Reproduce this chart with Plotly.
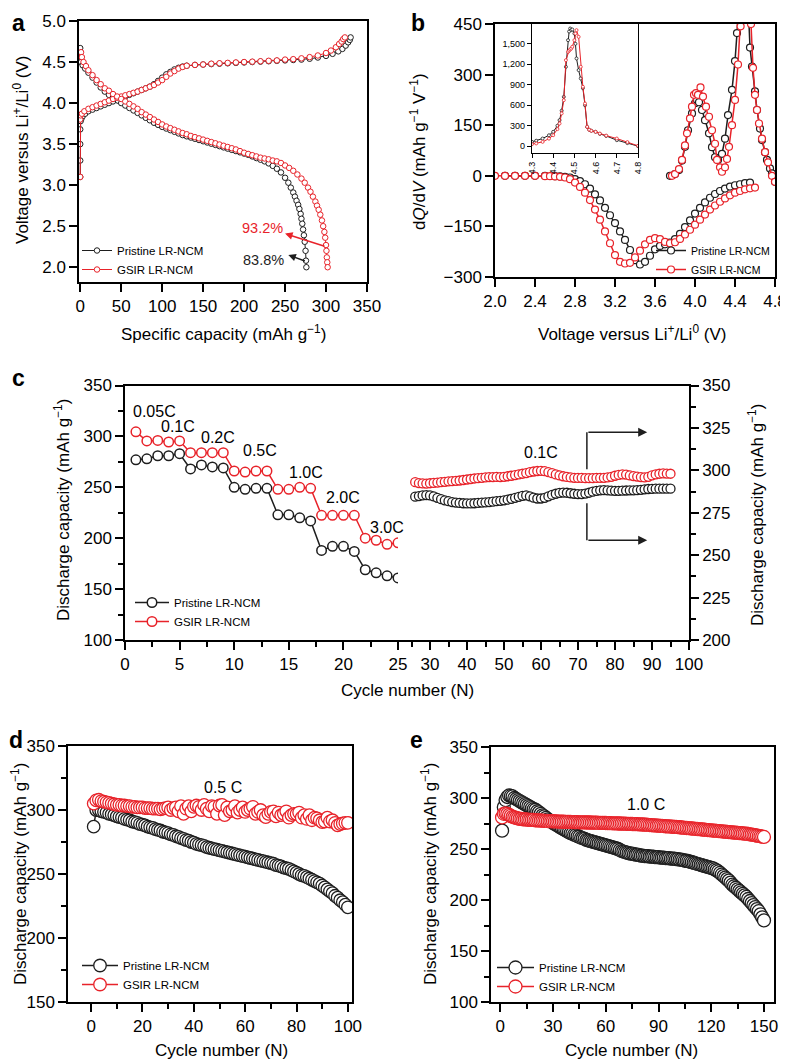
import plotly.graph_objects as go

W, H = 788, 1059
OX, OY = 8, 8  # the page body puts the figure 8 px in from the corner
RED = "#e8232a"
BLACK = "#1e1e1e"
FONT = "Liberation Sans, Arial, Helvetica, sans-serif"

# ---------------- panel a : charge / discharge profiles ----------------
a_pri_chg_cap = [0, 0, 0, 0, 0.5, 1.5, 3, 6,
                 10, 15, 20, 25, 30, 35, 40, 45, 50, 55, 60, 65, 70, 75, 80, 85, 90, 95, 100, 105, 110, 115, 120, 125, 130,
                 140, 150, 160, 170, 180, 190, 200, 210, 220, 230, 240, 250, 260, 270, 280, 290, 300,
                 308, 315, 320, 324, 327, 329, 330]
a_pri_chg_v = [3.1, 3.3, 3.5, 3.68, 3.78, 3.81, 3.84, 3.87,
               3.9, 3.92, 3.94, 3.96, 3.98, 4.0, 4.02, 4.04, 4.06, 4.08, 4.1, 4.12, 4.14, 4.16, 4.18, 4.2, 4.23, 4.27, 4.31, 4.35, 4.38, 4.41, 4.43, 4.445, 4.455,
               4.465, 4.47, 4.475, 4.48, 4.485, 4.49, 4.495, 4.5, 4.505, 4.51, 4.515, 4.52, 4.525, 4.53, 4.54, 4.555, 4.575,
               4.6, 4.63, 4.66, 4.7, 4.74, 4.77, 4.8]
a_gsir_chg_cap = [0, 0, 0.5, 2, 5,
                  10, 15, 20, 25, 30, 35, 40, 45, 50, 55, 60, 65, 70, 75, 80, 85, 90, 95, 100, 105, 110, 115, 120, 125, 130,
                  140, 150, 160, 170, 180, 190, 200, 210, 220, 230, 240, 250, 260, 270, 280, 290, 300,
                  306, 312, 316, 319, 321, 323]
a_gsir_chg_v = [3.1, 3.8, 3.85, 3.87, 3.9,
                3.93, 3.95, 3.97, 3.99, 4.01, 4.03, 4.05, 4.065, 4.08, 4.095, 4.11, 4.125, 4.14, 4.16, 4.18, 4.2, 4.22, 4.25, 4.28, 4.32, 4.36, 4.39, 4.42, 4.44, 4.455,
                4.465, 4.47, 4.48, 4.485, 4.49, 4.495, 4.5, 4.505, 4.51, 4.515, 4.52, 4.53, 4.535, 4.545, 4.56, 4.58, 4.61,
                4.64, 4.68, 4.72, 4.75, 4.78, 4.8]
a_pri_dis_cap = [0, 0.5, 1, 3, 6, 10, 15, 20, 25, 30, 35, 40, 46,
                 50, 55, 60, 65, 70, 75, 80, 85, 90, 95, 100, 105, 110, 115, 120, 125, 130, 135, 140, 145,
                 150, 155, 160, 165, 170, 175, 180, 185, 190, 195, 200, 205, 210, 215, 220, 225, 230, 235, 240, 245,
                 250, 254, 257, 260, 262, 264, 266, 267.5, 269, 270, 271, 272, 273, 274, 275, 275.5, 276]
a_pri_dis_v = [4.67, 4.55, 4.5, 4.46, 4.42, 4.37, 4.31, 4.25, 4.19, 4.14, 4.1, 4.07, 4.03,
               4.0, 3.97, 3.94, 3.91, 3.88, 3.85, 3.82, 3.79, 3.76, 3.735, 3.71, 3.69, 3.67, 3.65, 3.63, 3.61, 3.595, 3.58, 3.565, 3.55,
               3.535, 3.52, 3.505, 3.49, 3.475, 3.46, 3.445, 3.43, 3.415, 3.4, 3.385, 3.37, 3.35, 3.33, 3.31, 3.29, 3.265, 3.235, 3.2, 3.155,
               3.09, 3.03, 2.97, 2.91, 2.86, 2.81, 2.76, 2.71, 2.65, 2.59, 2.53, 2.46, 2.39, 2.31, 2.2, 2.08, 2.0]
a_gsir_dis_cap = [1, 2, 4, 7, 10, 15, 20, 25, 30, 35, 40, 45, 50, 55, 60, 65, 70, 75, 80, 85, 90, 95,
                  100, 105, 110, 115, 120, 125, 130, 135, 140, 145, 150, 155, 160, 165, 170, 175, 180, 185, 190, 195,
                  200, 205, 210, 215, 220, 225, 230, 235,
                  240, 245, 250, 255, 260, 265, 270, 274, 278, 281, 284, 287, 289, 291, 293, 295, 296.5, 298, 299, 300,
                  300.5, 301, 301.5, 302]
a_gsir_dis_v = [4.62, 4.56, 4.5, 4.45, 4.4, 4.34, 4.28, 4.23, 4.18, 4.15, 4.11, 4.08, 4.05, 4.02, 3.99, 3.96, 3.93, 3.89, 3.86, 3.83, 3.8, 3.77,
                3.74, 3.715, 3.695, 3.675, 3.655, 3.635, 3.62, 3.6, 3.585, 3.57, 3.555, 3.54, 3.525, 3.51, 3.495, 3.48, 3.465, 3.45, 3.435, 3.415,
                3.395, 3.38, 3.365, 3.35, 3.335, 3.325, 3.315, 3.3,
                3.29, 3.27, 3.24, 3.21, 3.175, 3.13, 3.08, 3.03, 2.97, 2.92, 2.86, 2.8, 2.75, 2.7, 2.64, 2.57, 2.5, 2.43, 2.36, 2.27,
                2.2, 2.12, 2.06, 2.0]

# ---------------- panel b : dQ/dV ----------------
b_pri_dis_v = [2.1, 2.2, 2.3, 2.4, 2.5, 2.6,
               2.65, 2.7, 2.75, 2.8, 2.85, 2.9, 2.95, 3.0, 3.05, 3.1,
               3.15, 3.2, 3.25, 3.3, 3.35, 3.4, 3.45, 3.5, 3.55, 3.6,
               3.65, 3.7, 3.75, 3.8, 3.85, 3.9, 3.95, 4.0, 4.05, 4.1,
               4.15, 4.2, 4.25, 4.3, 4.35, 4.4, 4.45, 4.5, 4.55]
b_pri_dis = [0, 0, 0, 0, 0, -1,
             -2, -3, -5, -10, -16, -25, -38, -55, -73, -95,
             -117, -140, -165, -190, -220, -250, -263, -255, -237, -218,
             -208, -203, -198, -188, -172, -152, -132, -112, -95, -79,
             -65, -54, -45, -38, -32, -28, -25, -22, -20]
b_gsir_dis_v = [2.0, 2.1, 2.2, 2.3, 2.4, 2.5, 2.55, 2.6, 2.65, 2.7, 2.75, 2.8, 2.85, 2.9, 2.95, 3.0,
                3.05, 3.1, 3.15, 3.2, 3.25, 3.3, 3.35, 3.4, 3.45, 3.5, 3.55, 3.6, 3.65, 3.7, 3.75, 3.8,
                3.85, 3.9, 3.95, 4.0, 4.05, 4.1, 4.15, 4.2, 4.25, 4.3, 4.35, 4.4, 4.45, 4.5, 4.55, 4.6]
b_gsir_dis = [0, 0, 0, 0, 0, -1, -1, -2, -3, -5, -10, -20, -33, -50, -72, -100,
              -130, -165, -200, -235, -255, -260, -258, -242, -222, -203, -190, -185, -188, -196, -200, -197,
              -187, -174, -160, -145, -130, -115, -100, -88, -77, -67, -58, -50, -45, -40, -37, -35]
b_pri_chg_v = [3.75, 3.8, 3.84, 3.87, 3.9, 3.93, 3.97, 4.0, 4.02, 4.04, 4.07, 4.1, 4.14, 4.17, 4.2, 4.23,
               4.27, 4.3, 4.33, 4.37, 4.4, 4.42, 4.44, 4.5, 4.53, 4.55, 4.57, 4.6, 4.62, 4.65, 4.67, 4.7,
               4.72, 4.75, 4.77, 4.8]
b_pri_chg = [0, 5, 17, 45, 86, 135, 185, 215, 225, 218, 195, 165, 126, 85, 55, 47,
             65, 110, 180, 255, 340, 423, 520, 1700, 520, 380, 324, 250, 195, 140, 106, 70,
             47, 22, 7, -18]
b_gsir_chg_v = [3.77, 3.8, 3.84, 3.87, 3.9, 3.92, 3.95, 3.97, 3.99, 4.01, 4.03, 4.055, 4.08, 4.11, 4.14, 4.17,
                4.2, 4.22, 4.25, 4.27, 4.3, 4.32, 4.34, 4.37, 4.4, 4.43, 4.456, 4.48, 4.52, 4.56, 4.58, 4.6,
                4.62, 4.64, 4.67, 4.7, 4.73, 4.77, 4.8]
b_gsir_chg = [0, 5, 20, 47, 90, 126, 170, 205, 240, 245, 240, 262, 235, 205, 175, 135,
              95, 47, 25, 12, 25, 50, 86, 150, 225, 330, 443, 600, 1700, 450, 320, 240,
              195, 155, 110, 70, 40, 0, -18]

# inset of panel b (charge peak)
ins_v = [4.3, 4.32, 4.35, 4.38, 4.4, 4.42, 4.43, 4.44, 4.45, 4.46, 4.47, 4.475, 4.48, 4.485, 4.49, 4.5,
         4.505, 4.51, 4.52, 4.53, 4.54, 4.55, 4.56, 4.57, 4.58, 4.6, 4.62, 4.65, 4.7, 4.75, 4.8]
ins_pri = [63, 80, 112, 160, 210, 300, 381, 520, 723, 1163, 1553, 1680, 1724, 1700, 1710, 1651,
           1500, 1285, 1114, 992, 850, 600, 283, 240, 225, 210, 180, 150, 88, 45, 0]
ins_gsir = [30, 40, 63, 110, 161, 250, 332, 480, 674, 1260, 1382, 1400, 1417, 1430, 1456, 1553,
            1650, 1700, 1602, 1163, 870, 625, 283, 240, 225, 210, 185, 155, 112, 60, 5]

# ---------------- panel c : rate capability ----------------
c_cyc_rate = list(range(1, 26))
c_pri_rate = [277, 278, 281, 281, 283, 268, 272, 270, 269, 250, 248, 249, 249,
              223, 223, 220, 217, 188, 192, 192, 187, 169, 166, 163, 161]
c_gsir_rate = [304.5, 295.5, 296, 294.5, 295.5, 284, 284, 284, 284, 266, 265, 266, 266,
               248, 248, 250, 249, 222.5, 222.5, 222.5, 222.5, 200, 198, 194, 195.5]
c_rate_labels = ["0.05C", "0.1C", "0.2C", "0.5C", "1.0C", "2.0C", "3.0C"]
c_rate_label_x = [2.66, 4.86, 8.56, 12.32, 16.6, 19.97, 24.0]
c_rate_label_y = [324, 309.5, 298.7, 285.8, 264.1, 240.4, 210.5]

c_cyc_01 = list(range(26, 96))
c_pri_01 = [284.5, 284.8, 285.2, 285.4, 285.2, 284.6, 283.8, 283.0, 282.3, 281.8,
            281.3, 281.0, 280.8, 280.6, 280.5, 280.5, 280.6, 280.8, 281.0, 281.1,
            281.3, 281.5, 281.8, 282.0, 282.3, 282.7, 283.2, 283.8, 284.4, 285.0,
            285.2, 284.7, 283.9, 283.4, 283.4, 283.8, 284.6, 285.5, 286.2, 286.7,
            286.9, 286.8, 286.5, 286.2, 286.0, 286.0, 286.3, 286.8, 287.4, 287.9,
            288.2, 288.3, 288.2, 288.0, 287.9, 287.9, 288.0, 288.1, 288.2, 288.2,
            288.3, 288.5, 288.8, 289.0, 289.1, 289.2, 289.2, 289.2, 289.2, 289.2]
c_gsir_01 = [293.0, 292.5, 292.3, 292.2, 292.4, 292.6, 292.8, 293.0, 293.2, 293.5,
             293.6, 293.8, 294.0, 294.3, 294.6, 294.9, 295.2, 295.4, 295.6, 295.8,
             296.0, 296.0, 296.1, 296.0, 296.2, 296.5, 296.8, 297.2, 297.6, 298.0,
             298.4, 298.9, 299.3, 299.6, 299.7, 299.5, 299.0, 298.3, 297.6, 297.0,
             296.5, 296.1, 295.8, 295.6, 295.5, 295.5, 295.4, 295.4, 295.4, 295.5,
             295.5, 295.6, 295.8, 296.2, 296.8, 297.3, 297.6, 297.5, 297.0, 296.6,
             296.3, 296.0, 295.8, 296.2, 297.0, 297.6, 298.0, 298.2, 298.1, 298.0]

# ---------------- panel d : 0.5 C cycling ----------------
d_cyc = list(range(1, 101))
d_pri = [287, 300, 300, 299, 298.5, 298, 297, 296.5, 296, 295,
         294.5, 294, 293, 292.5, 292, 291, 290.5, 290, 289, 288.5,
         288, 287, 286.5, 286, 285, 284.5, 284, 283, 282.5, 282,
         281, 280.5, 279.5, 279, 278, 277.5, 276.5, 276, 275, 274.5,
         273.5, 273, 272.5, 272, 271, 270.5, 270, 269.5, 269, 268.5,
         268, 267.5, 267, 266.5, 266, 265.5, 265, 264.5, 264, 263.5,
         263, 262.5, 262, 261.5, 261, 260.5, 260, 259.5, 259, 258.5,
         258, 257, 256.5, 256, 255, 254.5, 254, 253, 252, 251,
         250, 249, 248.5, 247.5, 246.5, 245.5, 244.5, 243.5, 242.5, 241,
         239.5, 238, 236.5, 235, 233, 231.5, 229.5, 228, 226, 224]
d_gsir = [305, 307.5, 308, 307, 306.5, 306, 305.5, 305, 304.5, 304,
          304, 303.5, 303.5, 303, 303, 302.5, 302.5, 302, 302, 302,
          301.5, 301.5, 301.5, 301, 301, 301, 300.5, 301, 301.5, 302,
          300, 301.5, 302, 299, 303, 297, 301, 303, 299, 302.5,
          303.5, 302.5, 300, 304, 301, 299, 303, 302.5, 297, 303.5,
          304, 296, 302, 299, 300, 303, 298, 300, 302, 298.5,
          300, 301, 302.5, 297, 298.5, 300, 296, 294.5, 297, 298.5,
          299, 295, 298, 296, 297, 299, 294, 296, 297, 297,
          298, 294, 296, 293, 296, 292, 294, 293.5, 292, 290.5,
          291, 294, 291, 292, 290, 288, 289, 289.5, 290, 290]

# ---------------- panel e : 1.0 C cycling ----------------
e_cyc = list(range(1, 151))
e_pri = [268, 291, 298, 301, 302.5, 302, 301.5, 300, 299, 298,
         297, 296, 295, 294, 293, 292, 291, 290, 289, 288.5,
         287, 286, 284.5, 283, 282, 280.5, 279, 278, 277, 275.5,
         274.5, 273.5, 272.5, 271.5, 270.5, 269.5, 268.5, 267.5, 266.5, 265.5,
         265, 264, 263.5, 262.5, 262, 261, 260.5, 260, 259, 258.5,
         258, 257.5, 257, 256.5, 256, 255.5, 255, 254.5, 254, 253.5,
         253, 252.5, 252, 251.5, 251, 250.5, 250, 249, 248, 247.5,
         247, 246.5, 246, 245.5, 245.5, 245, 244.5, 244.5, 244, 243.5,
         243.5, 243, 243, 243, 242.5, 242.5, 242.5, 242, 242, 242,
         241.5, 241.5, 241.5, 241, 241, 241, 240.5, 240.5, 240.5, 240,
         240, 239.5, 239.5, 239, 238.5, 238.5, 238, 237.5, 237, 236.5,
         236, 235.5, 235, 234.5, 234, 233.5, 233, 232.5, 232, 231.5,
         231, 230, 229, 228, 226.5, 225, 223.5, 222, 220.5, 219,
         217, 215, 213.5, 212, 210.5, 209, 207.5, 206, 204.5, 203,
         201, 199, 197, 195, 193, 191, 189, 186, 183, 180]
e_gsir = [281, 284.5, 285, 284.5, 283.5, 282.5, 281.5, 281, 280.5, 280,
          279.5, 279.5, 279, 279, 279, 278.5, 278.5, 278.5, 278.5, 278,
          278, 278, 277.8, 277.8, 277.6, 277.6, 277.4, 277.4, 277.2, 277.2,
          277, 277, 276.9, 276.8, 276.8, 276.7, 276.6, 276.6, 276.5, 276.5,
          276.4, 276.4, 276.3, 276.3, 276.2, 276.2, 276.1, 276.1, 276, 276,
          276, 275.9, 275.9, 275.8, 275.8, 275.7, 275.7, 275.6, 275.6, 275.5,
          275.4, 275.4, 275.3, 275.2, 275.2, 275.1, 275, 275, 274.9, 274.8,
          274.8, 274.7, 274.6, 274.6, 274.5, 274.4, 274.4, 274.3, 274.2, 274.2,
          274, 273.9, 273.8, 273.6, 273.5, 273.4, 273.2, 273.1, 273, 272.9,
          272.7, 272.6, 272.5, 272.3, 272.2, 272.1, 272, 271.8, 271.7, 271.6,
          271.4, 271.3, 271.1, 271, 270.8, 270.6, 270.5, 270.3, 270.1, 270,
          269.8, 269.6, 269.5, 269.3, 269.1, 269, 268.8, 268.6, 268.5, 268.3,
          268.1, 268, 267.8, 267.6, 267.5, 267.3, 267.1, 267, 266.8, 266.6,
          266.5, 266.3, 266.1, 266, 265.8, 265.6, 265.5, 265.3, 265.1, 265,
          264.7, 264.4, 264.1, 263.8, 263.5, 263.1, 262.8, 262.5, 262.1, 261.8]

PRI = "Pristine LR-NCM"
GSIR = "GSIR LR-NCM"


def px(x):
    return (x - OX) / W


def py(y):
    return 1 - (y - OY) / H


def xd(left, right):
    return [px(left), px(right)]


def yd(top, bottom):
    return [py(bottom), py(top)]


def axis(domain, rng, anchor, dtick, **kw):
    d = dict(domain=domain, range=rng, anchor=anchor, dtick=dtick, automargin=False,
             showline=True, linecolor="black", linewidth=1.5, mirror=True,
             ticks="outside", ticklen=8, tickwidth=1.5, tickcolor="black",
             showgrid=False, zeroline=False,
             tickfont=dict(size=17, color="black", family=FONT))
    d.update(kw)
    return d


def minor(step, length=5):
    return dict(dtick=step, ticks="outside", ticklen=length, tickwidth=1.5, tickcolor="black", showgrid=False)


def series(x, y, color, xa, ya, size, lw=1.2, mlw=1.2, name=None, legend="legend", show=False):
    return go.Scatter(x=x, y=y, xaxis=xa, yaxis=ya, mode="lines+markers", name=name,
                      legend=legend, showlegend=show, cliponaxis=True,
                      line=dict(color=color, width=lw),
                      marker=dict(symbol="circle", size=size, color="white",
                                  line=dict(color=color, width=mlw)))


fig = go.Figure()

# a
fig.add_trace(series(a_pri_chg_cap, a_pri_chg_v, BLACK, "x", "y", 5.5, 1, 1, PRI, "legend", True))
fig.add_trace(series(a_pri_dis_cap, a_pri_dis_v, BLACK, "x", "y", 5.5, 1, 1))
fig.add_trace(series(a_gsir_chg_cap, a_gsir_chg_v, RED, "x", "y", 5.5, 1, 1, GSIR, "legend", True))
fig.add_trace(series(a_gsir_dis_cap, a_gsir_dis_v, RED, "x", "y", 5.5, 1, 1))

# b
fig.add_trace(series(b_pri_dis_v, b_pri_dis, BLACK, "x2", "y2", 7, 1.5, 1.2, PRI, "legend2", True))
fig.add_trace(series(b_pri_chg_v, b_pri_chg, BLACK, "x2", "y2", 7, 1.5, 1.2))
fig.add_trace(series(b_gsir_dis_v, b_gsir_dis, RED, "x2", "y2", 7, 1.5, 1.2, GSIR, "legend2", True))
fig.add_trace(series(b_gsir_chg_v, b_gsir_chg, RED, "x2", "y2", 7, 1.5, 1.2))
fig.add_trace(series(ins_v, ins_pri, BLACK, "x3", "y3", 3, 1, 0.8))
fig.add_trace(series(ins_v, ins_gsir, RED, "x3", "y3", 3, 1, 0.8))

# c
fig.add_trace(series(c_cyc_rate, c_pri_rate, BLACK, "x4", "y4", 9.5, 1.5, 1.5, PRI, "legend3", True))
fig.add_trace(series(c_cyc_rate, c_gsir_rate, RED, "x4", "y4", 9.5, 1.5, 1.5, GSIR, "legend3", True))
fig.add_trace(series(c_cyc_01, c_pri_01, BLACK, "x5", "y5", 9, 1.2, 1.3))
fig.add_trace(series(c_cyc_01, c_gsir_01, RED, "x5", "y5", 9, 1.2, 1.3))

# d
fig.add_trace(series(d_cyc, d_pri, BLACK, "x6", "y6", 12.5, 1.5, 1.3, PRI, "legend4", True))
fig.add_trace(series(d_cyc, d_gsir, RED, "x6", "y6", 12.5, 1.5, 1.3, GSIR, "legend4", True))

# e
fig.add_trace(series(e_cyc, e_pri, BLACK, "x7", "y7", 13, 1.5, 1.3, PRI, "legend5", True))
fig.add_trace(series(e_cyc, e_gsir, RED, "x7", "y7", 13, 1.5, 1.3, GSIR, "legend5", True))

ann = []


def label(text, x, y, size=17, angle=0, color="black", bold=False, ref=("paper", "paper")):
    if ref == ("paper", "paper"):
        x, y = px(x), py(y)
    ann.append(dict(text=f"<b>{text}</b>" if bold else text, x=x, y=y, xref=ref[0], yref=ref[1],
                    showarrow=False, textangle=angle, xanchor="center", yanchor="middle",
                    font=dict(size=size, color=color, family=FONT)))


# panel letters (kept just inside the drawable page area)
for t, lx, ly in [("a", 18, 23), ("b", 418, 23), ("c", 18, 378), ("d", 16, 740), ("e", 416, 740)]:
    label(t, lx, ly, size=23, bold=True)

# axis titles
li = "Voltage versus Li<sup>+</sup>/Li<sup>0</sup> (V)"
dc = "Discharge capacity (mAh g<sup>\u22121</sup>)"
cn = "Cycle number (N)"
label("Specific capacity (mAh g<sup>\u22121</sup>)", 223, 333)
label(li, 21, 150, angle=-90)
label(li, 632, 333)
label("d<i>Q</i>/d<i>V</i> (mAh g<sup>\u22121</sup> V<sup>\u22121</sup>)", 418, 151, angle=-90)
label(cn, 407, 690)
label(dc, 62, 510, angle=-90)
label(dc, 756, 515, angle=-90)
label(cn, 222, 1050)
label(dc, 19, 874, angle=-90)
label(cn, 631, 1050)
label(dc, 429, 874, angle=-90)

# panel a percentages with arrows
ann.append(dict(x=250, y=2.41, ax=300, ay=2.25, xref="x", yref="y", axref="x", ayref="y",
                showarrow=True, arrowhead=2, arrowsize=1, arrowwidth=1.5, arrowcolor=RED, text=""))
ann.append(dict(x=254, y=2.15, ax=276, ay=2.07, xref="x", yref="y", axref="x", ayref="y",
                showarrow=True, arrowhead=2, arrowsize=1, arrowwidth=1.5, arrowcolor=BLACK, text=""))
label("93.2%", 222, 2.48, size=14.5, color=RED, ref=("x", "y"))
label("83.8%", 224, 2.09, size=14.5, color=BLACK, ref=("x", "y"))

# panel c rate labels and arrows
for t, x, y in zip(c_rate_labels, c_rate_label_x, c_rate_label_y):
    label(t, x, y, size=16, ref=("x4", "y4"))
label("0.1C", 59.9, 310.8, size=16, ref=("x5", "y5"))
for yy in (322.5, 258.8):
    ann.append(dict(x=88.7, y=yy, ax=72.4, ay=yy, xref="x5", yref="y5", axref="x5", ayref="y5",
                    showarrow=True, arrowhead=2, arrowsize=1.2, arrowwidth=1.5, arrowcolor=BLACK, text=""))
shapes = [dict(type="line", xref="x5", yref="y5", x0=72.4, x1=72.4, y0=322.5, y1=300.6,
               line=dict(color=BLACK, width=1.5)),
          dict(type="line", xref="x5", yref="y5", x0=72.4, x1=72.4, y0=280.6, y1=258.8,
               line=dict(color=BLACK, width=1.5))]

label("0.5 C", 51.4, 317.9, size=16, ref=("x6", "y6"))
label("1.0 C", 82.8, 293.8, size=16, ref=("x7", "y7"))


def leg(lx, ly, size, iw=30):
    return dict(x=px(lx), y=py(ly), xanchor="left", yanchor="top", bgcolor="rgba(0,0,0,0)",
                font=dict(size=size, color="black", family=FONT), tracegroupgap=0, itemwidth=iw)


fig.update_layout(
    template="none",
    width=W, height=H, margin=dict(l=0, r=0, t=0, b=0, pad=0), autosize=False,
    paper_bgcolor="white", plot_bgcolor="white",
    font=dict(family=FONT, color="black"),
    xaxis=axis(xd(79, 367), [-1.5, 350], "y", 50),
    yaxis=axis(yd(21, 282), [1.82, 5.0], "x", 0.5, tickformat=".1f"),
    xaxis2=axis(xd(495, 775), [2.0, 4.8], "y2", 0.4, tickformat=".1f"),
    yaxis2=axis(yd(24, 277), [-300, 450], "x2", 150),
    xaxis3=axis(xd(532, 638), [4.3, 4.8], "y3", 0.1, tickformat=".1f", tickangle=-90, ticklen=4,
                tickwidth=1, linewidth=1.2, tickfont=dict(size=9, color="black", family=FONT)),
    yaxis3=axis(yd(24, 153), [-100, 1790], "x3", 300, tickformat=",d", ticklen=4,
                tickwidth=1, linewidth=1.2, tickfont=dict(size=9, color="black", family=FONT)),
    xaxis4=axis(xd(125, 398), [0, 25], "y4", 5, minor=minor(2.5)),
    yaxis4=axis(yd(385.5, 640), [100, 350], "x4", 50, mirror=False, minor=minor(25)),
    xaxis5=axis(xd(398, 689), [21.35, 100], "y5", 10, tick0=0, minor=minor(5)),
    yaxis5=axis(yd(385.5, 640), [200, 350], "x5", 25, side="right", mirror=False, minor=minor(12.5)),
    xaxis6=axis(xd(68, 352), [-9, 101.6], "y6", 20, minor=minor(10)),
    yaxis6=axis(yd(746, 1002), [150, 350], "x6", 50, minor=minor(25)),
    xaxis7=axis(xd(491, 774), [-5.3, 155.7], "y7", 30, minor=minor(15)),
    yaxis7=axis(yd(747, 1002), [100, 350], "x7", 50, minor=minor(25)),
    legend=leg(77, 236, 11.5),
    legend2=leg(651, 236, 10.5),
    legend3=leg(130, 588, 11.5, 34),
    legend4=leg(77, 951, 11.5, 36),
    legend5=leg(492, 953, 11.5, 37),
    annotations=ann,
    shapes=shapes,
)

fig.write_html("out.html")
